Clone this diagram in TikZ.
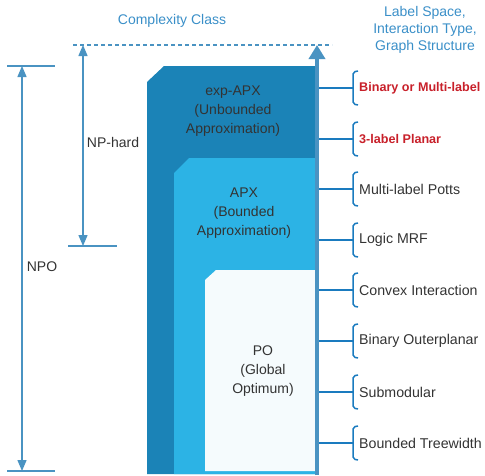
\documentclass[tikz,border=0pt]{standalone}
\usepackage{fontspec}
\setmainfont{Liberation Sans}
\usetikzlibrary{arrows.meta}
\definecolor{axisblue}{HTML}{4A93C2}
\definecolor{titleblue}{HTML}{3A8FC8}
\definecolor{darkbox}{HTML}{1B83B7}
\definecolor{midbox}{HTML}{2CB3E5}
\definecolor{lightbox}{HTML}{F5FBFD}
\definecolor{tickblue}{HTML}{1A7BBF}
\definecolor{redlab}{HTML}{C8202A}
\definecolor{textgray}{HTML}{333333}
\tikzset{
  guide/.style={draw=axisblue, line width=1.3pt},
  dimarrow/.style={guide, {Triangle[length=11pt,width=9pt]}-{Triangle[length=11pt,width=9pt]}},
  boxtext/.style={text=textgray, font=\fontsize{14}{19}\selectfont, align=center},
  headtext/.style={text=titleblue, font=\fontsize{14}{17}\selectfont, align=center},
  tickline/.style={draw=tickblue, line width=1.5pt},
  bracestyle/.style={draw=tickblue, line width=1.5pt, rounded corners=2pt},
  labtext/.style={text=textgray, font=\fontsize{14.2}{16}\selectfont, anchor=west, inner sep=0pt},
  redtext/.style={text=redlab, font=\bfseries\fontsize{12.6}{16}\selectfont, anchor=west, inner sep=0pt},
}
\begin{document}
\begin{tikzpicture}[x=1pt,y=-1pt]
\useasboundingbox (0,0) rectangle (485,475);
% titles
\node[headtext] (title) at (172,21) {Complexity Class};
\node[headtext] (title2) at (425,30) {Label Space,\\Interaction Type,\\Graph Structure};
% boxes
\fill[darkbox] (147,82) -- (164,66) -- (315,66) -- (315,474) -- (147,474) -- cycle;
\fill[midbox] (174,173) -- (189,158) -- (315,158) -- (315,474) -- (174,474) -- cycle;
\fill[lightbox] (205,280) -- (216,270) -- (315,270) -- (315,471) -- (205,471) -- cycle;
\node[boxtext] (exp) at (233,111) {exp-APX\\(Unbounded\\Approximation)};
\node[boxtext] (apx) at (244,213) {APX\\(Bounded\\Approximation)};
\node[boxtext] (po) at (263,371) {PO\\(Global\\Optimum)};
% dashed top line
\coordinate (dl) at (73,45);
\coordinate (dr) at (332,45);
\draw[guide, line width=1.6pt, dash pattern=on 4pt off 3pt] (dl) -- (dr);
% NPO dimension
\coordinate (npotl) at (7,66);  \coordinate (npotr) at (55,66);
\coordinate (npobl) at (7,471); \coordinate (npobr) at (55,471);
\coordinate (npot) at (22,66);  \coordinate (npob) at (22,471);
\draw[guide, line width=1.8pt] (npotl) -- (npotr);
\draw[guide, line width=1.8pt] (npobl) -- (npobr);
\draw[dimarrow] (npob) -- (npot);
\node[boxtext] (npo) at (42,267) {NPO};
% NP-hard dimension
\coordinate (nphl) at (68,246); \coordinate (nphr) at (117,246);
\coordinate (npht) at (83,45);  \coordinate (nphb) at (83,246);
\draw[guide, line width=1.8pt] (nphl) -- (nphr);
\draw[dimarrow] (nphb) -- (npht);
\node[boxtext] (nph) at (113,142) {NP-hard};
% axis
\coordinate (axb) at (317,475);
\coordinate (axt) at (317,45);
\draw[draw=axisblue, line width=4pt, -{Triangle[length=14pt,width=16pt]}] (axb) -- (axt);
% ticks, braces, labels
\foreach \y/\name/\sty/\txt in {
  88/l1/redtext/{Binary or Multi-label},
  139/l2/redtext/{3-label Planar},
  189/l3/labtext/{Multi-label Potts},
  240/l4/labtext/{Logic MRF},
  290/l5/labtext/{Convex Interaction},
  341/l6/labtext/{Binary Outerplanar},
  392/l7/labtext/{Submodular},
  443/l8/labtext/{Bounded Treewidth}}{
  \coordinate (a\name) at (319,\y);
  \coordinate (b\name) at (353,\y);
  \draw[tickline] (a\name) -- (b\name);
  \draw[bracestyle] (358,\y-17) -- (353,\y-16) -- (353,\y+16) -- (358,\y+17);
  \node[\sty] (\name) at (359,\y) {\txt};
}
\end{tikzpicture}
\end{document}
